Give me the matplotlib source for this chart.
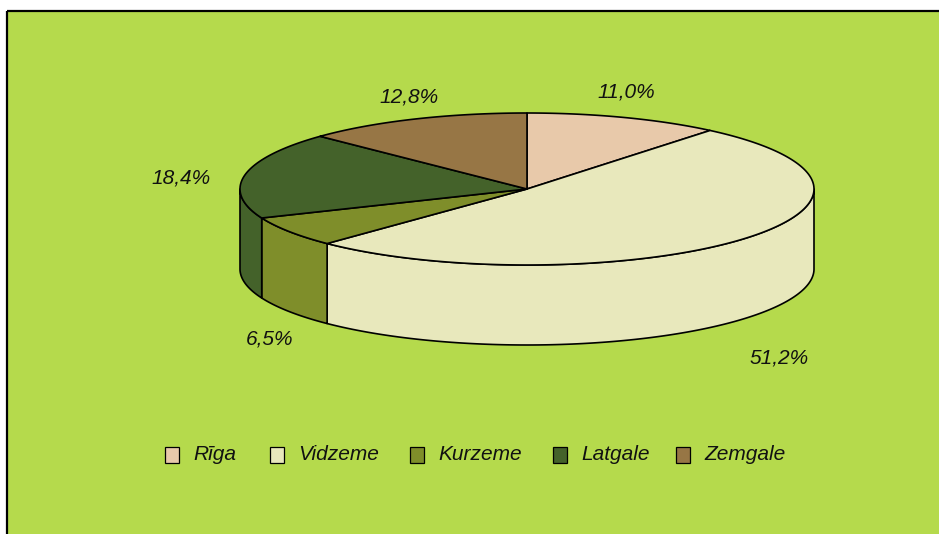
import numpy as np
import matplotlib
matplotlib.use("Agg")
import matplotlib.pyplot as plt
from matplotlib.patches import Polygon, Rectangle

# ---- data ----
regions = ["Rīga", "Vidzeme", "Kurzeme", "Latgale", "Zemgale"]
shares = [11.0, 51.2, 6.5, 18.4, 12.8]
labels = ["11,0%", "51,2%", "6,5%", "18,4%", "12,8%"]
colors = ["#E8C9AA", "#E8E8BC", "#7F8E2A", "#44622A", "#977645"]

# ---- layout ----
W, H = 939, 534
fig = plt.figure(figsize=(W / 100, H / 100), dpi=100)
fig.patch.set_facecolor("white")
ax = fig.add_axes([0, 0, 1, 1])
ax.set_xlim(0, W)
ax.set_ylim(H, 0)
ax.axis("off")

bg = "#B5DA4C"
ax.add_patch(Rectangle((7, 10.5), W, H, facecolor=bg, edgecolor="none", zorder=0))
ax.plot([7, 7], [10.5, H], color="black", lw=1.6, zorder=1, solid_capstyle="butt")
ax.plot([7, W], [10.5, 10.5], color="black", lw=1.6, zorder=1, solid_capstyle="butt")

cx, cy, a, b, depth = 527, 189, 287, 76, 80
font = dict(family=["Liberation Sans", "DejaVu Sans"], style="italic", size=15, color="#111111")


def pt(theta_deg, dy=0.0):
    t = np.radians(theta_deg)
    return cx + a * np.sin(t), cy - b * np.cos(t) + dy


total = sum(shares)
bounds = np.concatenate([[0], np.cumsum(shares) / total * 360.0])

# sides (front half only: 90..270 degrees clockwise from top)
for i, c in enumerate(colors):
    t1, t2 = bounds[i], bounds[i + 1]
    s, e = max(t1, 90), min(t2, 270)
    if e <= s:
        continue
    ts = np.linspace(s, e, 200)
    top = [pt(t) for t in ts]
    bot = [pt(t, depth) for t in ts[::-1]]
    ax.add_patch(Polygon(top + bot, closed=True, facecolor=c, edgecolor="black",
                         lw=1.2, joinstyle="round", zorder=2))

# tops
for i, c in enumerate(colors):
    t1, t2 = bounds[i], bounds[i + 1]
    ts = np.linspace(t1, t2, 300)
    poly = [(cx, cy)] + [pt(t) for t in ts]
    ax.add_patch(Polygon(poly, closed=True, facecolor=c, edgecolor="black",
                         lw=1.2, joinstyle="round", zorder=3))

# percentage labels
label_pos = [(626, 92), (779, 358), (270, 339), (181, 178), (409, 97)]
for (x, y), txt in zip(label_pos, labels):
    ax.text(x, y, txt, ha="center", va="center", **font)

# legend
box_x = [165, 270, 410, 553, 676]
ly = 455
for x, name, c in zip(box_x, regions, colors):
    ax.add_patch(Rectangle((x, ly - 8), 14, 16, facecolor=c, edgecolor="black",
                           lw=0.9, zorder=4))
    ax.text(x + 28, ly, name, ha="left", va="center", **font)

fig.savefig("out.png", dpi=100, facecolor=fig.get_facecolor())
